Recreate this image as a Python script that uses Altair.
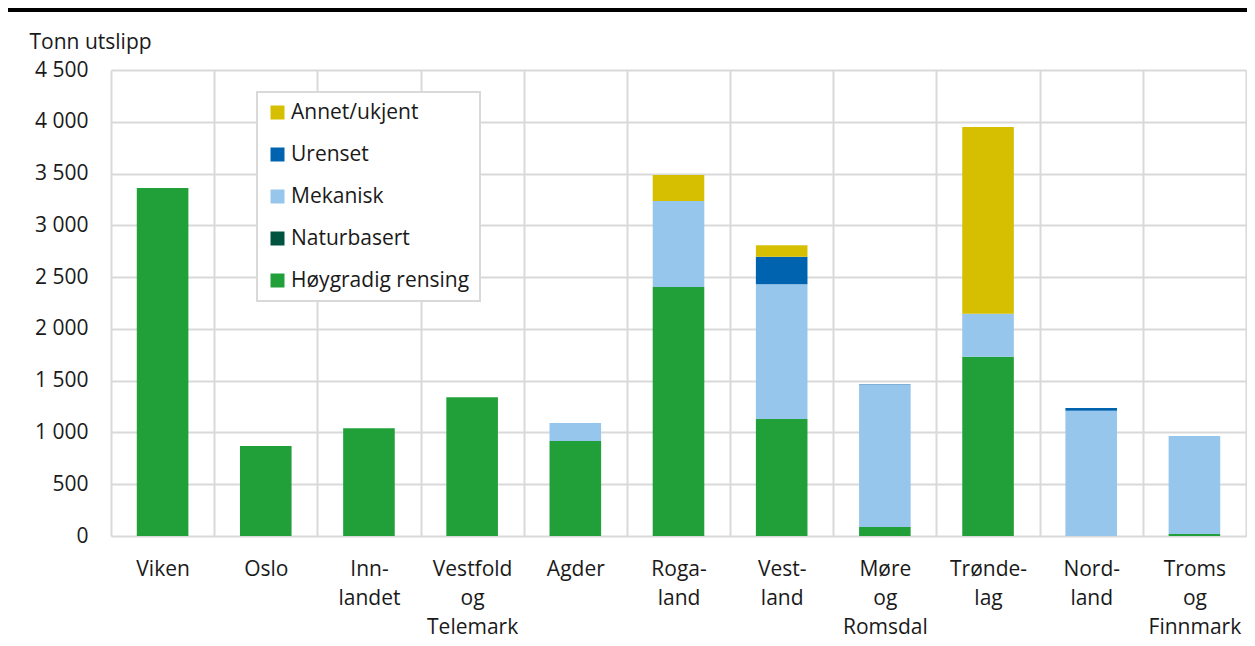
import altair as alt
import pandas as pd

regions = ["Viken", "Oslo", "Inn-\nlandet", "Vestfold\nog\nTelemark", "Agder",
           "Roga-\nland", "Vest-\nland", "Møre\nog\nRomsdal", "Trønde-\nlag",
           "Nord-\nland", "Troms\nog\nFinnmark"]
series = ["Annet/ukjent", "Urenset", "Mekanisk", "Naturbasert", "Høygradig rensing"]
colors = ["#D6BF00", "#0063AF", "#96C6EB", "#00543F", "#21A03A"]

hoygradig = [3360, 870, 1040, 1340, 917, 2405, 1130, 87, 1730, 0, 20]
naturbasert = [0, 0, 0, 0, 0, 0, 0, 0, 0, 0, 0]
mekanisk = [0, 0, 0, 0, 174, 830, 1300, 1370, 415, 1210, 945]
urenset = [0, 0, 0, 0, 0, 0, 267, 5, 0, 25, 0]
annet = [0, 0, 0, 0, 0, 250, 110, 0, 1805, 0, 0]

values = {
    "Høygradig rensing": hoygradig,
    "Naturbasert": naturbasert,
    "Mekanisk": mekanisk,
    "Urenset": urenset,
    "Annet/ukjent": annet,
}
stack_rank = {"Høygradig rensing": 0, "Naturbasert": 1, "Mekanisk": 2, "Urenset": 3, "Annet/ukjent": 4}

rows = []
for s, vals in values.items():
    for r, v in zip(regions, vals):
        rows.append({"region": r, "serie": s, "tonn": v, "rank": stack_rank[s]})
df = pd.DataFrame(rows)

FONT = "Open Sans"
FS = 21
GRID = "#d9d9d9"
TXT = "#1a1a1a"

bars = alt.Chart(df).mark_bar(width=alt.RelativeBandSize(0.5)).encode(
    x=alt.X("region:N", sort=regions, title=None,
            scale=alt.Scale(paddingInner=0, paddingOuter=0),
            axis=alt.Axis(labelAngle=0, labelExpr="split(datum.label, '\\n')",
                          labelLineHeight=29, labelPadding=22, labelFontSize=FS,
                          labelFont=FONT, labelColor=TXT, labelBaseline="top",
                          ticks=False, domain=False, grid=True, tickBand="extent",
                          gridColor=GRID, gridWidth=2)),
    y=alt.Y("tonn:Q", stack="zero",
            scale=alt.Scale(domain=[0, 4500], nice=False),
            axis=alt.Axis(values=list(range(0, 4501, 500)),
                          labelExpr="replace(format(datum.value, ','), ',', ' ')",
                          labelFontSize=FS, labelFont=FONT, labelColor=TXT,
                          labelPadding=23, ticks=False, domain=False,
                          gridColor=GRID, gridWidth=2,
                          title="Tonn utslipp", titleAngle=0, titleAlign="left",
                          titleBaseline="alphabetic", titleX=-82, titleY=-22,
                          titleFontSize=FS, titleFont=FONT, titleFontWeight="normal",
                          titleColor=TXT)),
    color=alt.Color("serie:N",
                    scale=alt.Scale(domain=series, range=colors),
                    legend=alt.Legend(title=None, orient="none", legendX=146, legendY=22,
                                      symbolType="square", symbolSize=196,
                                      symbolStrokeWidth=0, labelFontSize=FS,
                                      labelFont=FONT, labelColor=TXT,
                                      labelOffset=3, rowPadding=20, padding=10,
                                      strokeColor=GRID, fillColor="white",
                                      labelLimit=400)),
    order=alt.Order("rank:Q", sort="ascending"),
)

topline = alt.Chart(df).mark_rule(color="black", strokeWidth=3.5).encode(
    x=alt.value(-103), x2=alt.value(1140), y=alt.value(-60.5)
)

chart = alt.layer(bars, topline).properties(
    width=1135, height=466,
    autosize=alt.AutoSizeParams(type="none"),
    padding={"left": 103, "top": 62, "right": 1, "bottom": 106},
).configure_view(strokeWidth=0).configure_legend(strokeWidth=2)

chart.save("out.html", embed_options={"renderer": "svg", "actions": False})
